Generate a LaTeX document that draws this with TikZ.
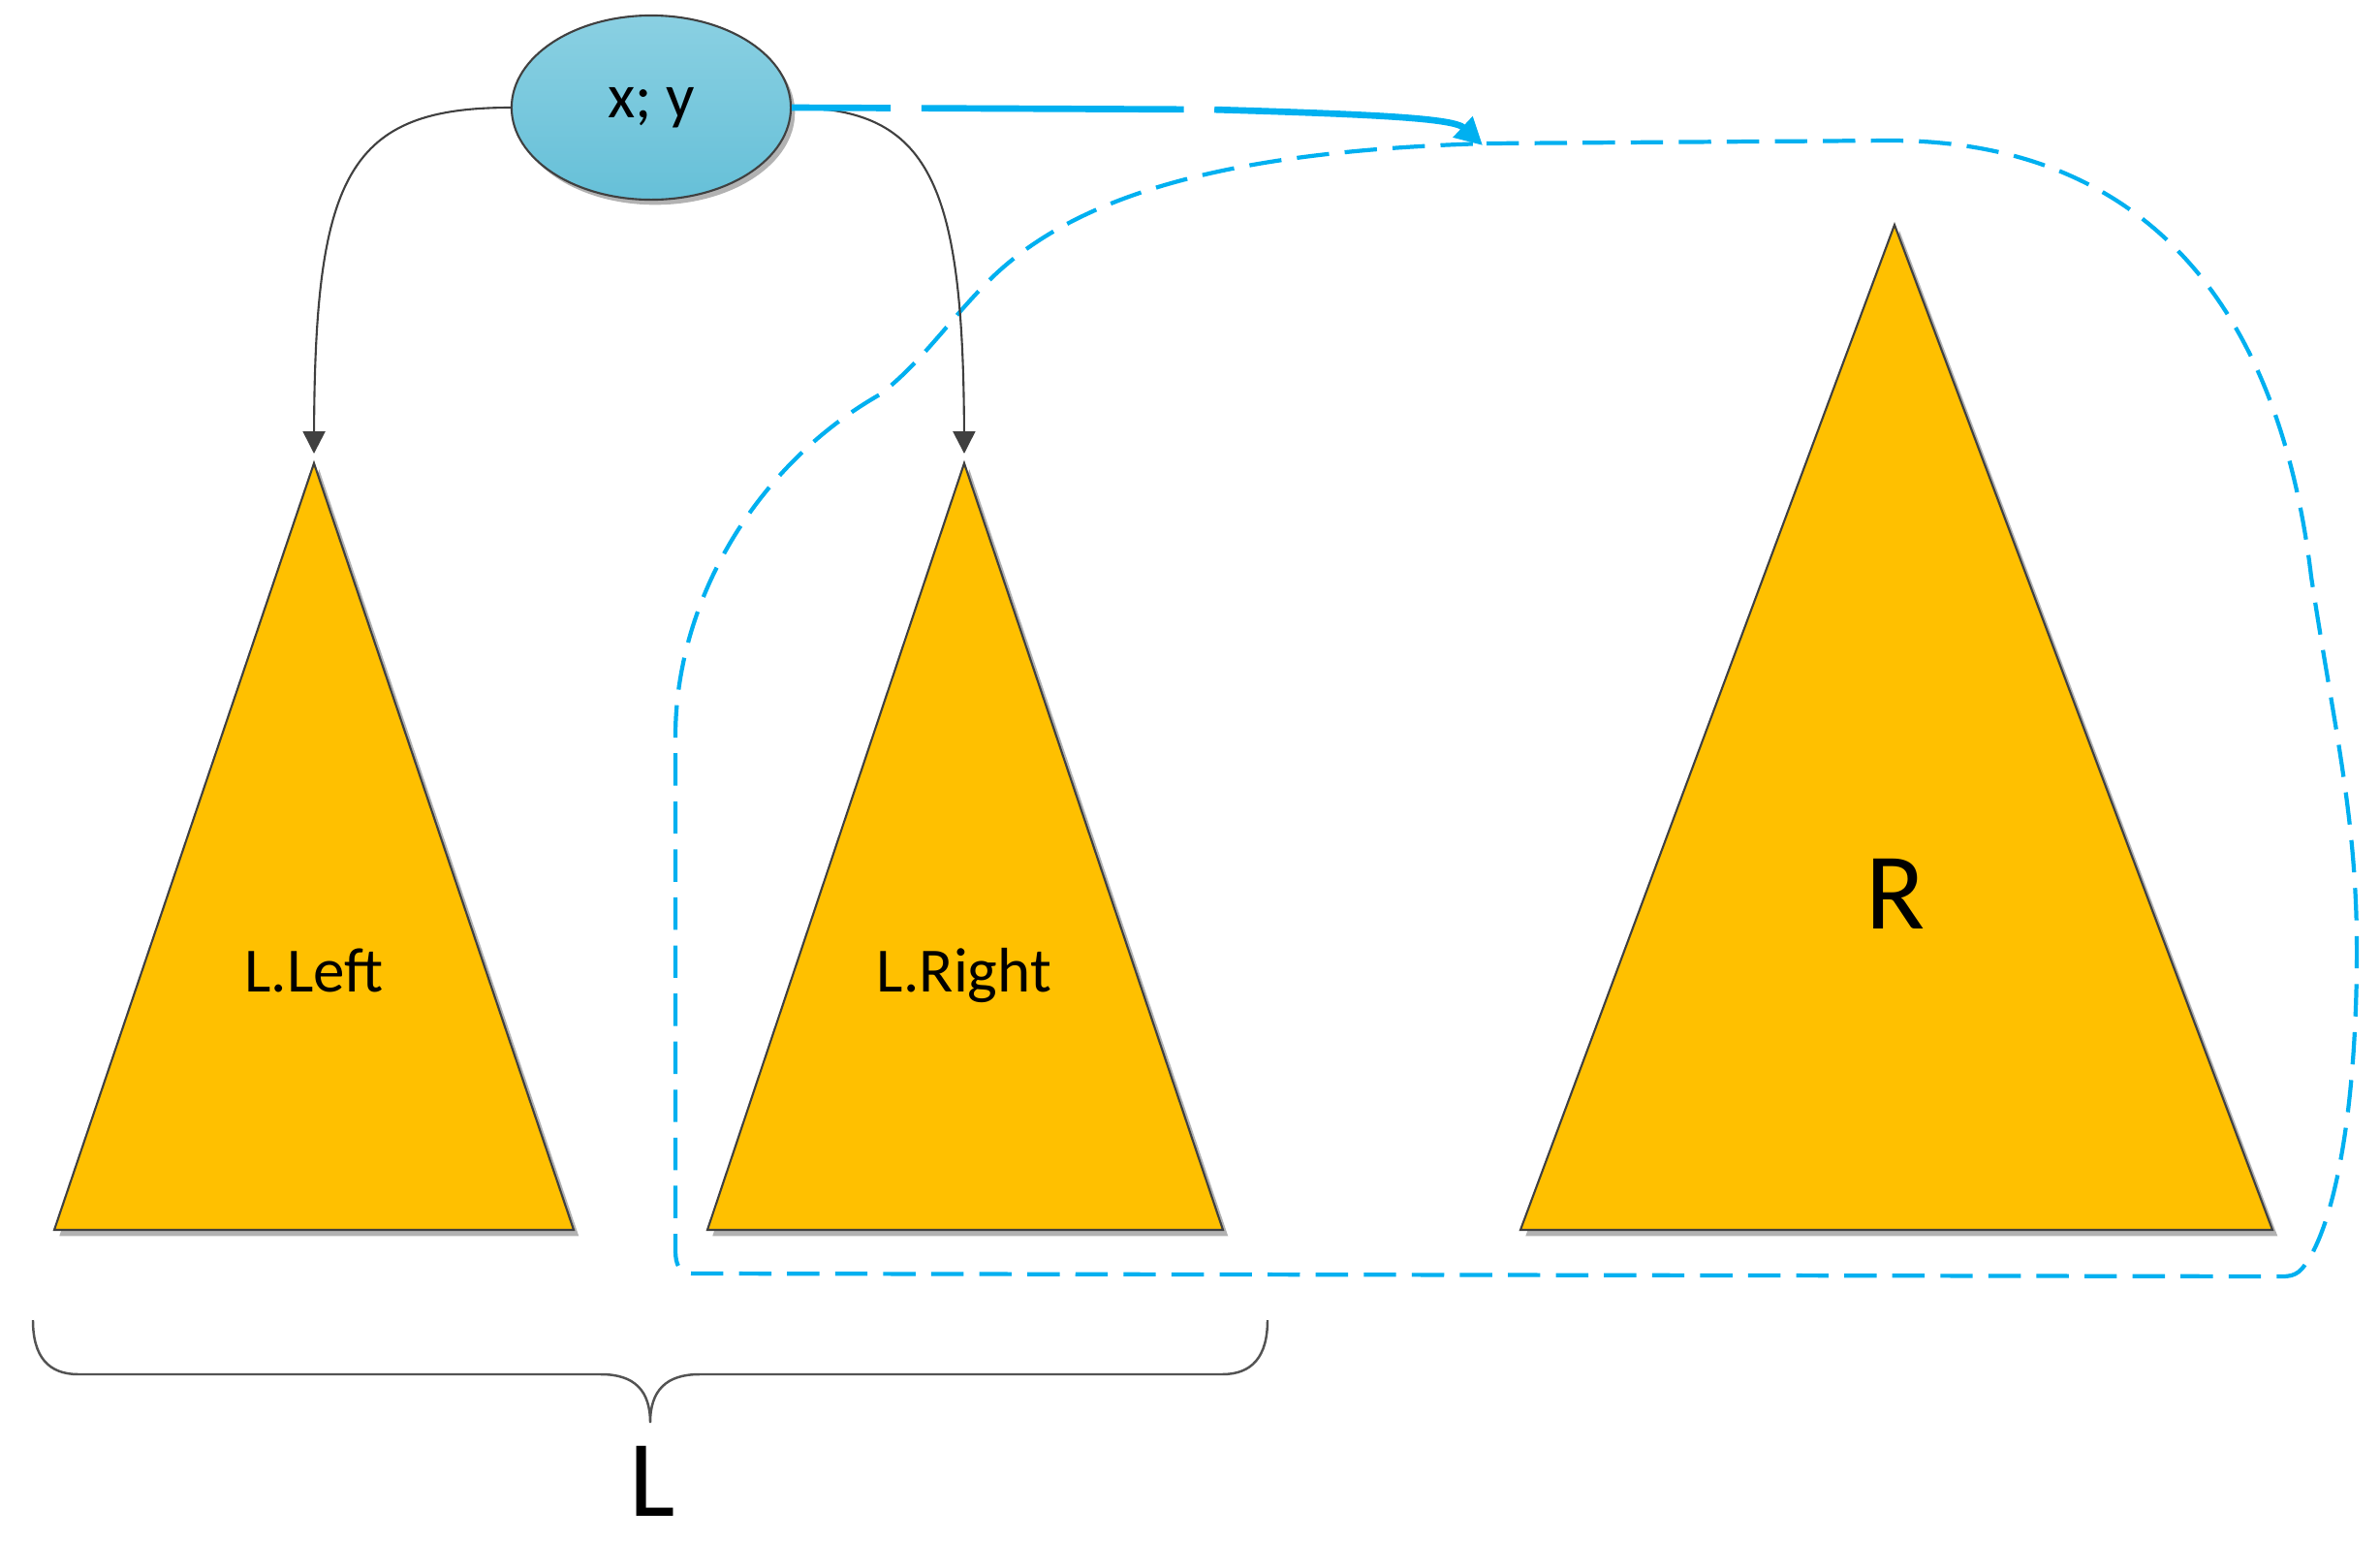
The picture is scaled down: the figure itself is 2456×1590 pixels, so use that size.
\documentclass[tikz,border=0pt]{standalone}
\usepackage{fontspec}
\setmainfont{Carlito}
\usetikzlibrary{shapes.geometric,arrows.meta,shadows}
\definecolor{trifill}{HTML}{FFC000}
\definecolor{lineg}{HTML}{404040}
\definecolor{blu}{HTML}{00B0F0}
\definecolor{elltop}{HTML}{8AD0E2}
\definecolor{ellbot}{HTML}{66C0D8}
\tikzset{
  treetri/.style={fill=trifill, draw=lineg, line width=0.6pt, line join=miter,
    drop shadow={shadow xshift=1.5pt, shadow yshift=-1.8pt, opacity=0.5, fill=black!60}},
  conn/.style={draw=lineg, line width=0.6pt, -{Triangle[width=6.5pt,length=6.5pt]}},
  movearrow/.style={draw=blu, line width=1.9pt, dash pattern=on 77pt off 9pt, dash phase=48pt,
    -{Triangle[width=8pt,length=8pt]}},
  looppath/.style={draw=blu, line width=1.2pt, dash pattern=on 9.5pt off 4.6pt, line join=round},
  bracepath/.style={draw=lineg!90, line width=0.7pt},
  keynode/.style={ellipse, minimum width=2.88cm, minimum height=1.9cm, inner sep=0pt,
    draw=lineg, line width=0.6pt, top color=elltop, bottom color=ellbot,
    drop shadow={shadow xshift=1.2pt, shadow yshift=-1.5pt, opacity=0.5, fill=black!60},
    font=\fontsize{18.5}{21}\selectfont},
  smalllab/.style={anchor=base, inner sep=0pt, font=\fontsize{18.5}{21}\selectfont},
  biglab/.style={anchor=base, inner sep=0pt, font=\fontsize{32}{38}\selectfont}
}
\begin{document}
\begin{tikzpicture}[x=0.01cm,y=-0.01cm]
\useasboundingbox (0,0) rectangle (2456,1590);

% dashed loop around L.Right and R
\draw[looppath] (1534,148) -- (1950,145)
  .. controls (2200,145) and (2350,300) .. (2385,595)
  .. controls (2410,760) and (2434,850) .. (2432,1000)
  .. controls (2430,1150) and (2410,1250) .. (2385,1295)
  .. controls (2375,1312) and (2370,1317) .. (2355,1317)
  -- (715,1314)
  .. controls (701,1314) and (697,1305) .. (697,1290)
  -- (697,760)
  .. controls (697,620) and (780,480) .. (908,407)
  .. controls (950,375) and (980,330) .. (1020,290)
  .. controls (1120,190) and (1300,155) .. cycle;

% triangles
\coordinate (LLtop) at (324,478);
\coordinate (LLbl) at (56,1269);
\coordinate (LLbr) at (592,1269);
\coordinate (LRtop) at (995,478);
\coordinate (LRbl) at (730,1269);
\coordinate (LRbr) at (1262,1269);
\coordinate (Rtop) at (1955,232);
\coordinate (Rbl) at (1569,1269);
\coordinate (Rbr) at (2345,1269);
\draw[treetri] (LLtop) -- (LLbr) -- (LLbl) -- cycle;
\draw[treetri] (LRtop) -- (LRbr) -- (LRbl) -- cycle;
\draw[treetri] (Rtop) -- (Rbr) -- (Rbl) -- cycle;

\node[smalllab] (lleft) at (324,1023) {L.Left};
\node[smalllab] (lright) at (995,1023) {L.Right};
\node[biglab] (rlab) at (1956,958) {R};

% root node
\node[keynode] (xy) at (672,111) {x; y};

% connectors
\coordinate (LLtip) at (324,468);
\coordinate (LRtip) at (995,468);
\draw[conn] (xy.west) .. controls (360,111) and (325,180) .. (LLtip);
\draw[conn] (xy.east) .. controls (960,111) and (994,190) .. (LRtip);

\coordinate (mvtip) at (1530,150);
\draw[movearrow] (xy.east) -- (1250,113) .. controls (1420,118) and (1500,122) .. (mvtip);

% brace
\draw[bracepath] (34,1362) .. controls (34,1400) and (50,1418) .. (81,1418) -- (620,1418)
  .. controls (655,1418) and (671,1435) .. (671,1468)
  .. controls (671,1435) and (687,1418) .. (722,1418) -- (1261,1418)
  .. controls (1292,1418) and (1308,1400) .. (1308,1362);
\node[biglab] (llab) at (673,1564) {L};
\end{tikzpicture}
\end{document}
